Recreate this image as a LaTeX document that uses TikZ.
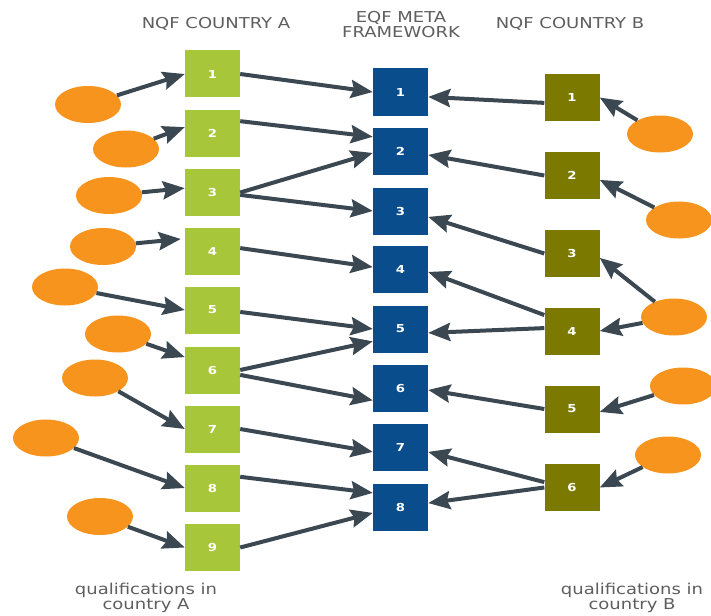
\documentclass[tikz,border=0pt]{standalone}
\usepackage{fontspec}
\usetikzlibrary{arrows.meta,shapes.geometric}
\newfontfamily\labelfont[FakeStretch=1.2]{DejaVu Sans}
\definecolor{nqfgreen}{HTML}{A8C63A}
\definecolor{eqfblue}{HTML}{0A4D8C}
\definecolor{nqfolive}{HTML}{7B7900}
\definecolor{qualorange}{HTML}{F7941E}
\definecolor{linkgray}{HTML}{3B4852}
\definecolor{textgray}{HTML}{5E5E5E}
\tikzset{
	levelbox/.style={rectangle, minimum width=55pt, minimum height=47pt, inner sep=0pt, text=white, font=\labelfont\bfseries\fontsize{11}{12}\selectfont},
	abox/.style={levelbox, fill=nqfgreen},
	eqfbox/.style={levelbox, fill=eqfblue},
	bbox/.style={levelbox, fill=nqfolive},
	qual/.style={ellipse, fill=qualorange, minimum width=66pt, minimum height=37pt, inner sep=0pt},
	link/.style={draw=linkgray, line width=4pt, -{Stealth[length=22pt, width=18pt, inset=3pt]}},
	heading/.style={text=textgray, align=center, font=\labelfont\fontsize{15}{15}\selectfont}
}

\begin{document}
\begin{tikzpicture}[x=1pt, y=-1pt]
			%%%%% START %%%%%
			\useasboundingbox (0, 0) rectangle (711, 615);
			
			\node[heading] (headA) at (216, 24) {NQF COUNTRY A};
			\node[heading] (headE) at (401, 25) {EQF META\\FRAMEWORK};
			\node[heading] (headB) at (570, 24) {NQF COUNTRY B};
			\node[heading] (footA) at (146, 598) {qualifications in\\country A};
			\node[heading] (footB) at (632, 598) {qualifications in\\country B};
			
			\node[abox] (a1) at (212.5, 74) {1};
			\node[abox] (a2) at (212.5, 133.5) {2};
			\node[abox] (a3) at (212.5, 192.5) {3};
			\node[abox] (a4) at (212.5, 251.5) {4};
			\node[abox] (a5) at (212.5, 310) {5};
			\node[abox] (a6) at (212.5, 370) {6};
			\node[abox] (a7) at (212.5, 429) {7};
			\node[abox] (a8) at (212.5, 488) {8};
			\node[abox] (a9) at (212.5, 547.5) {9};
			
			\node[eqfbox] (e1) at (400.5, 92) {1};
			\node[eqfbox] (e2) at (400.5, 151.5) {2};
			\node[eqfbox] (e3) at (400.5, 211) {3};
			\node[eqfbox] (e4) at (400.5, 269.5) {4};
			\node[eqfbox] (e5) at (400.5, 329) {5};
			\node[eqfbox] (e6) at (400.5, 388) {6};
			\node[eqfbox] (e7) at (400.5, 447.5) {7};
			\node[eqfbox] (e8) at (400.5, 507) {8};
			
			\node[bbox] (b1) at (572, 97.5) {1};
			\node[bbox] (b2) at (572, 175.5) {2};
			\node[bbox] (b3) at (572, 253.5) {3};
			\node[bbox] (b4) at (572, 331) {4};
			\node[bbox] (b5) at (572, 409) {5};
			\node[bbox] (b6) at (572, 487.5) {6};
			
			\node[qual] (qa1) at (88, 104.5) {};
			\node[qual] (qa2) at (126, 149) {};
			\node[qual] (qa3) at (109, 195.5) {};
			\node[qual] (qa4) at (103, 246.5) {};
			\node[qual] (qa5) at (65, 287) {};
			\node[qual] (qa6) at (118, 334) {};
			\node[qual] (qa7) at (95, 378) {};
			\node[qual] (qa8) at (46, 438) {};
			\node[qual] (qa9) at (100, 516.5) {};
			
			\node[qual] (qb1) at (660, 134) {};
			\node[qual] (qb2) at (679, 220) {};
			\node[qual] (qb3) at (674, 317) {};
			\node[qual] (qb4) at (683, 386) {};
			\node[qual] (qb5) at (668, 455) {};
			
			% qualifications A to NQF A
			\draw[link] (qa1) -- (a1.west);
			\draw[link] (qa2) -- (a2.167);
			\draw[link] (qa3) -- (a3.171);
			\draw[link, shorten >=4pt] (qa4) -- (a4.155);
			\draw[link] (qa5) -- (a5.west);
			\draw[link] (qa6) -- (a6.155);
			\draw[link] (qa7) -- (a7.west);
			\draw[link] (qa8) -- (a8.west);
			\draw[link] (qa9) -- (a9.west);
			
			% NQF A to EQF
			\draw[link] (a1.east) -- (e1.west);
			\draw[link] (a2.24) -- (e2.152);
			\draw[link] (a3.east) -- (e2.183);
			\draw[link] (a3.-5) -- (e3.west);
			\draw[link] (a4.7) -- (e4.175);
			\draw[link] (a5.-4) -- (e5.west);
			\draw[link] (a6.east) -- (e5.204);
			\draw[link] (a6.-10) -- (e6.204);
			\draw[link] (a7.east) -- (e7.189);
			\draw[link] (a8.22) -- (e8.153);
			\draw[link] (a9.east) -- (e8.192);
			
			% NQF B to EQF
			\draw[link] (b1.191) -- (e1.-10);
			\draw[link] (b2.west) -- (e2.-7);
			\draw[link] (b3.west) -- (e3.-12);
			\draw[link] (b4.150) -- (e4.-5);
			\draw[link] (b4.174) -- (e5.-8);
			\draw[link] (b5.west) -- (e6.-4);
			\draw[link] (b6.169) -- (e7.-9);
			\draw[link] (b6.west) -- (e8.8);
			
			% qualifications B to NQF B
			\draw[link] (qb1) -- (b1.east);
			\draw[link] (qb2) -- (b2.-9);
			\draw[link] (qb3) -- (b3.-9);
			\draw[link] (qb3) -- (b4.east);
			\draw[link] (qb4) -- (b5.-6);
			\draw[link] (qb5) -- (b6.east);
			
			%%%%% END %%%%%
		\end{tikzpicture}
\end{document}
